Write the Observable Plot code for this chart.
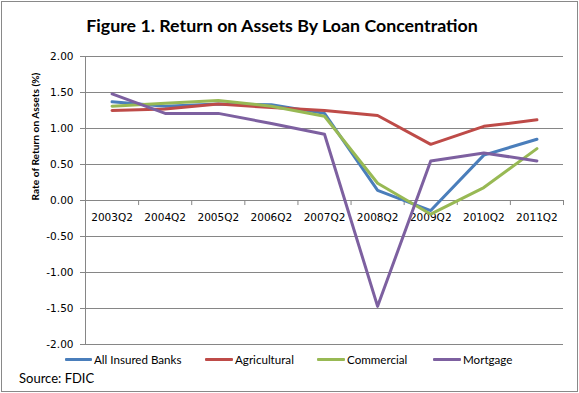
<!DOCTYPE html>
<html><head><meta charset="utf-8">
<script src="https://cdn.jsdelivr.net/npm/d3@7"></script>
<script src="https://cdn.jsdelivr.net/npm/@observablehq/plot@0.6"></script>
<style>
body{margin:0;background:#fff;}
#chart{position:relative;width:579px;height:393px;overflow:hidden;background:#fff;}
#border{position:absolute;left:1px;top:1px;width:575px;height:389px;border:1px solid #898989;box-sizing:content-box;}
#title{position:absolute;left:0;width:564px;top:14px;text-align:center;font-family:Lato;font-weight:bold;font-size:17.8px;color:#000;white-space:nowrap;}
#plot{position:absolute;left:0;top:0;}
.lg{position:absolute;top:351px;height:17px;font-family:Lato;font-size:11.6px;color:#000;white-space:nowrap;line-height:17px;}
.sw{position:absolute;height:3px;top:358px;border-radius:1px;}
#source{position:absolute;left:19px;top:369px;font-family:Lato;font-size:13px;color:#000;line-height:18px;}
</style></head><body>
<div id="chart">
<div id="border"></div>
<div id="plot"></div>
<div id="title"></div>
<div id="legend"></div>
<div id="source"></div>
</div>
<script>
const titleText = "Figure 1. Return on Assets By Loan Concentration";
const yTitle = "Rate of Return on Assets (%)";
const sourceText = "Source: FDIC";
const categories = ["2003Q2","2004Q2","2005Q2","2006Q2","2007Q2","2008Q2","2009Q2","2010Q2","2011Q2"];
const seriesNames = ["All Insured Banks","Agricultural","Commercial","Mortgage"];
const seriesColors = ["#4A7EBB","#BE4B48","#98B954","#7D60A0"];
const allInsured   = [1.37, 1.31, 1.34, 1.33, 1.21, 0.14, -0.14, 0.63, 0.85];
const agricultural = [1.25, 1.27, 1.34, 1.29, 1.25, 1.18, 0.78, 1.03, 1.12];
const commercial   = [1.31, 1.35, 1.39, 1.31, 1.17, 0.24, -0.19, 0.18, 0.72];
const mortgage     = [1.48, 1.21, 1.21, 1.07, 0.92, -1.47, 0.55, 0.66, 0.55];
const yTicks = [-2, -1.5, -1, -0.5, 0, 0.5, 1, 1.5, 2];
const legendX = [{sw:65, tx:94},{sw:205, tx:235},{sw:317, tx:347},{sw:433, tx:463}];

const seriesValues = [allInsured, agricultural, commercial, mortgage];
const data = seriesNames.flatMap((s, k) => seriesValues[k].map((v, i) => ({series: s, i, v})));
const boundaries = d3.range(-0.5, categories.length, 1);
const grey = "#868686";

const plot = Plot.plot({
  width: 579, height: 393,
  marginLeft: 85, marginRight: 16, marginTop: 56, marginBottom: 49,
  style: {fontFamily: "DejaVu Sans", fontSize: "10.5px", background: "transparent", overflow: "visible"},
  x: {type: "linear", domain: [-0.5, categories.length - 0.5], axis: null},
  y: {domain: [-2, 2], axis: null},
  color: {domain: seriesNames, range: seriesColors},
  marks: [
    Plot.gridY({ticks: yTicks, stroke: grey, strokeOpacity: 1}),
    Plot.axisY({ticks: yTicks, tickFormat: d => d.toFixed(2), tickSize: 5, tickPadding: 7, stroke: grey, fill: "black", label: null}),
    Plot.ruleX([-0.5], {stroke: grey}),
    Plot.ruleX(boundaries, {x: d => d, y1: () => 0, y2: () => -0.07, stroke: grey}),
    Plot.text(categories, {x: (d, i) => i, y: () => 0, dy: 17, text: d => d, fill: "black"}),
    Plot.text([yTitle], {frameAnchor: "left", dx: -50, rotate: -90, text: d => d, fontFamily: "Lato", fontWeight: "bold", fontSize: 10.2, fill: "black"}),
    Plot.line(data, {x: "i", y: "v", z: "series", stroke: "series", strokeWidth: 3, strokeLinejoin: "round", strokeLinecap: "round"})
  ]
});
document.getElementById("plot").appendChild(plot);
document.getElementById("title").textContent = titleText;
document.getElementById("source").textContent = sourceText;
const lg = document.getElementById("legend");
seriesNames.forEach((s, k) => {
  const sw = document.createElement("div");
  sw.className = "sw";
  sw.style.left = legendX[k].sw + "px";
  sw.style.width = (legendX[k].tx - legendX[k].sw - 2) + "px";
  sw.style.background = seriesColors[k];
  lg.appendChild(sw);
  const t = document.createElement("div");
  t.className = "lg";
  t.style.left = legendX[k].tx + "px";
  t.textContent = s;
  lg.appendChild(t);
});
</script>
</body></html>
